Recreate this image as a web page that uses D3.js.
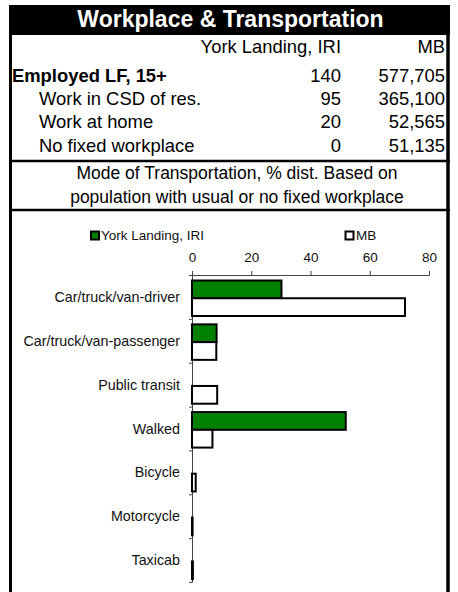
<!DOCTYPE html>
<html><head><meta charset="utf-8">
<script src="https://cdn.jsdelivr.net/npm/d3@7"></script>
<style>
html,body{margin:0;padding:0;background:#fff;}
svg{display:block;font-family:"Liberation Sans",Arial,sans-serif;}
</style></head>
<body>
<svg id="c" width="458" height="592"></svg>
<script>
const title = "Workplace & Transportation";
const colHeaders = ["York Landing, IRI", "MB"];
const rowLabels = ["Employed LF, 15+", "Work in CSD of res.", "Work at home", "No fixed workplace"];
const rowYork = ["140", "95", "20", "0"];
const rowMB = ["577,705", "365,100", "52,565", "51,135"];
const subtitle = ["Mode of Transportation, % dist. Based on", "population with usual or no fixed workplace"];
const seriesNames = ["York Landing, IRI", "MB"];
const categories = ["Car/truck/van-driver", "Car/truck/van-passenger", "Public transit", "Walked", "Bicycle", "Motorcycle", "Taxicab"];
const yorkValues = [30.2, 8.3, 0, 51.9, 0, 0, 0];
const mbValues = [71.9, 8.2, 8.5, 6.9, 1.25, 0.2, 0.3];
const xTicks = [0, 20, 40, 60, 80];

const svg = d3.select("#c");

// title bar
svg.append("rect").attr("x", 9).attr("y", 5).attr("width", 441).attr("height", 30).attr("fill", "#000");
svg.append("text").attr("x", 230.5).attr("y", 27).attr("text-anchor", "middle")
  .attr("fill", "#fff").attr("font-weight", "bold").attr("font-size", 23).text(title);

// borders
svg.append("line").attr("x1", 10.5).attr("x2", 10.5).attr("y1", 34).attr("y2", 592).attr("stroke", "#000").attr("stroke-width", 3);
svg.append("line").attr("x1", 448).attr("x2", 448).attr("y1", 34).attr("y2", 592).attr("stroke", "#000").attr("stroke-width", 3.5);
[161, 210].forEach(y => svg.append("line").attr("x1", 9).attr("x2", 450).attr("y1", y).attr("y2", y).attr("stroke", "#000").attr("stroke-width", 2.5));

// table
const fs = 18.4;
svg.append("text").attr("x", 341).attr("y", 53).attr("text-anchor", "end").attr("font-size", fs).text(colHeaders[0]);
svg.append("text").attr("x", 445).attr("y", 53).attr("text-anchor", "end").attr("font-size", fs).text(colHeaders[1]);
const rowY = [82, 105, 128, 152];
rowLabels.forEach((l, i) => {
  svg.append("text").attr("x", i === 0 ? 12 : 39).attr("y", rowY[i]).attr("font-size", fs)
    .attr("font-weight", i === 0 ? "bold" : "normal").text(l);
  svg.append("text").attr("x", 341).attr("y", rowY[i]).attr("text-anchor", "end").attr("font-size", fs).text(rowYork[i]);
  svg.append("text").attr("x", 445).attr("y", rowY[i]).attr("text-anchor", "end").attr("font-size", fs).text(rowMB[i]);
});
subtitle.forEach((s, i) => svg.append("text").attr("x", 237).attr("y", 179 + i * 24)
  .attr("text-anchor", "middle").attr("font-size", 17.5).text(s));

// chart
const x = d3.scaleLinear().domain([0, 80]).range([192, 429]);
const y = d3.scaleBand().domain(categories).range([275, 582]).padding(0);
const inner = d3.scaleBand().domain([0, 1]).range([5.5, 41]).padding(0);
const colors = ["#008000", "#ffffff"];

// legend
const leg = [[91, 101], [345.5, 356]];
seriesNames.forEach((n, i) => {
  svg.append("rect").attr("x", leg[i][0]).attr("y", 231.5).attr("width", 8).attr("height", 8)
    .attr("fill", colors[i]).attr("stroke", "#000").attr("stroke-width", 2);
  svg.append("text").attr("x", leg[i][1]).attr("y", 240).attr("font-size", 13.5).attr("fill", "#111").text(n);
});

const xAxis = svg.append("g").attr("transform", "translate(0,275)")
  .call(d3.axisTop(x).tickValues(xTicks).tickSize(4).tickPadding(9));
xAxis.selectAll("text").attr("font-size", 13.5).attr("font-family", "Liberation Sans, Arial, sans-serif").attr("fill", "#111");
xAxis.selectAll("path,line").attr("stroke", "#444");

// y axis: line with ticks at band boundaries
const yAxisScale = d3.scaleLinear().domain([0, categories.length]).range([275, 582]);
const yAxis = svg.append("g").attr("transform", "translate(192,0)")
  .call(d3.axisLeft(yAxisScale).ticks(categories.length).tickSize(3).tickFormat(""));
yAxis.selectAll("path,line").attr("stroke", "#444");

// category labels
svg.append("g").selectAll("text").data(categories).join("text")
  .attr("x", 180).attr("y", d => y(d) + y.bandwidth() / 2).attr("dy", "0.35em")
  .attr("text-anchor", "end").attr("font-size", 14.3).attr("fill", "#111").text(d => d);

// bars
const series = [yorkValues, mbValues];
series.forEach((vals, si) => {
  svg.append("g").selectAll("rect").data(categories.map((c, i) => ({c, v: vals[i]})).filter(d => d.v > 0)).join("rect")
    .attr("x", x(0)).attr("y", d => y(d.c) + inner(si))
    .attr("width", d => x(d.v) - x(0)).attr("height", inner.bandwidth())
    .attr("fill", colors[si]).attr("stroke", "#000").attr("stroke-width", 2);
});
</script>
</body></html>
